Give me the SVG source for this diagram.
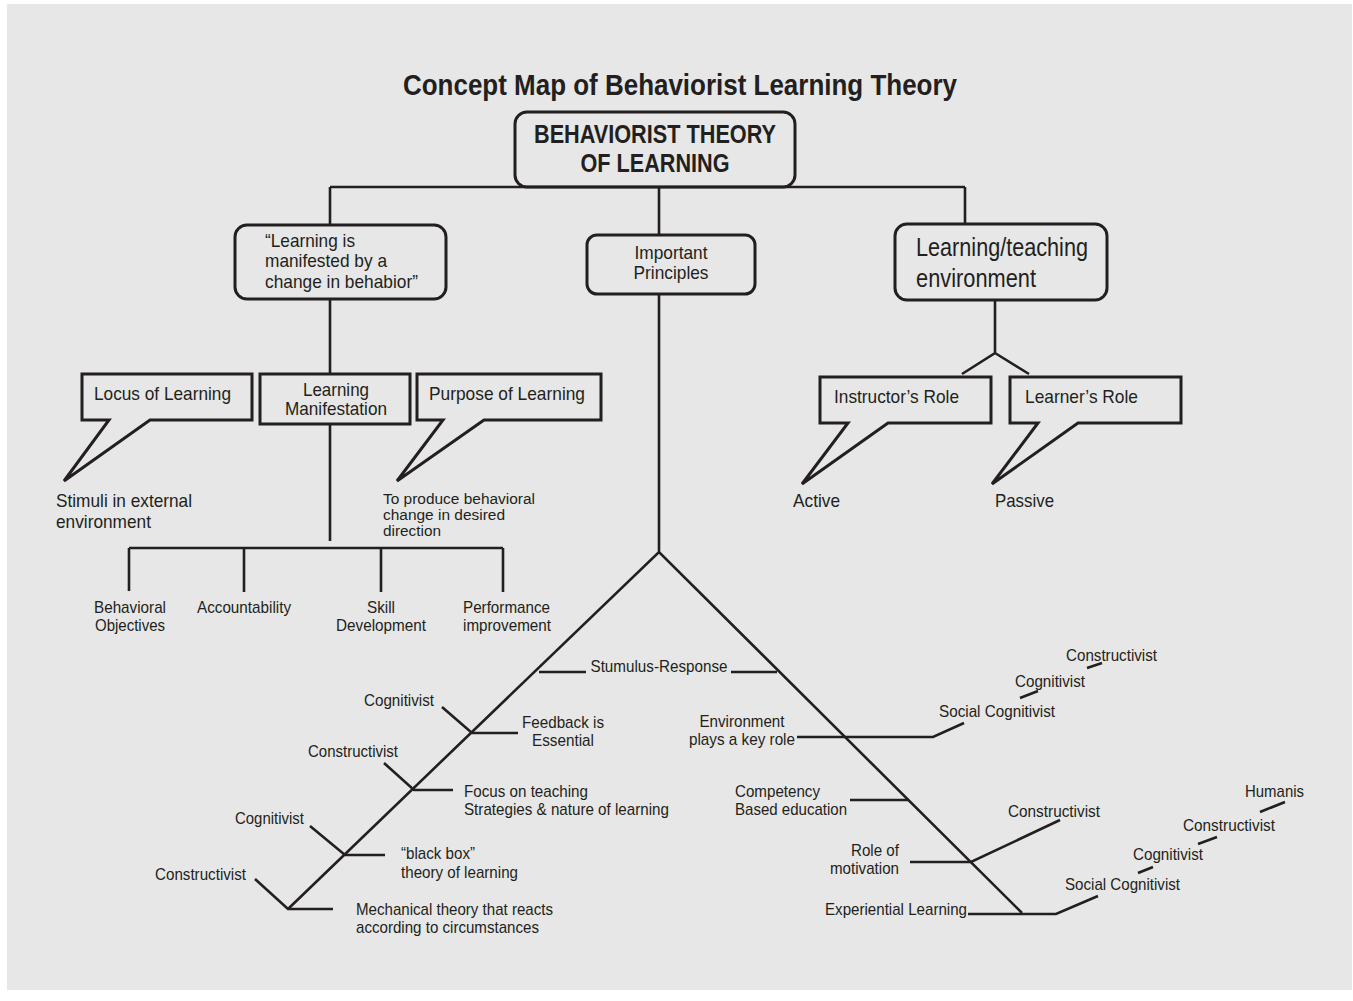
<svg xmlns="http://www.w3.org/2000/svg" width="1353" height="1001" viewBox="0 0 1353 1001">
<style>
.ln{stroke:#231f20;stroke-width:2.6;fill:none;stroke-linecap:butt}
.bx{fill:none;stroke:#231f20;stroke-width:3;stroke-linejoin:miter}
.rb{fill:none;stroke:#231f20;stroke-width:3}
text{font-family:"Liberation Sans",Arial,Helvetica,sans-serif;fill:#231f20}
.t18{font-size:19px}
.t16{font-size:17px}
.t15{font-size:15.5px}
.t24{font-size:25px}
.b25{font-size:25px;font-weight:bold}
.mid{text-anchor:middle}
.end{text-anchor:end}
</style>
<rect x="0" y="0" width="1353" height="1001" fill="#ffffff"/>
<rect x="7" y="4" width="1345" height="986" fill="#e6e7e6"/>

<g id="title">
<text x="680" y="95" class="mid" style="font-size:29px;font-weight:bold" textLength="554" lengthAdjust="spacingAndGlyphs">Concept Map of Behaviorist Learning Theory</text>
</g>

<g id="connectors">
<path class="ln" d="M330,187 H965 M330,187 V225 M659,187 V235 M965,187 V224"/>
<path class="ln" d="M330,299 V374 M330,424 V541"/>
<path class="ln" d="M129,548 H503 M129,548 V591 M244,548 V592 M381,548 V592 M503,548 V592"/>
<path class="ln" d="M995,300 V353 L962,374 M995,353 L1029,374"/>
<path class="ln" d="M659,294 V552 M288,909 L659,552 L1022,913"/>
<path class="ln" d="M539,672 H586 M731,672 H777"/>
<path class="ln" d="M442,707 L472,733 H518 M384,763 L414,790 H453 M310,826 L345,855 H385 M255,879 L288,909 H333"/>
<path class="ln" d="M797,737 H933 L964,723 M1020,698 L1038,691 M1087,668 L1102,663"/>
<path class="ln" d="M850,800 H909 M910,862 H971 L1060,820 M968,914 H1056 L1098,896"/>
<path class="ln" d="M1138,873 L1153,867 M1198,844 L1217,837 M1260,812 L1285,802"/>
</g>

<g id="node-root">
<rect class="rb" x="515" y="112" width="280" height="75" rx="12"/>
<text x="655" y="143" class="b25 mid" textLength="242" lengthAdjust="spacingAndGlyphs">BEHAVIORIST THEORY</text>
<text x="655" y="172" class="b25 mid" textLength="149" lengthAdjust="spacingAndGlyphs">OF LEARNING</text>
</g>

<g id="node-manifested">
<rect class="rb" x="235" y="225" width="211" height="74" rx="12"/>
<text x="265" y="247" class="t18" textLength="90" lengthAdjust="spacingAndGlyphs">“Learning is</text>
<text x="265" y="267" class="t18" textLength="122" lengthAdjust="spacingAndGlyphs">manifested by a</text>
<text x="265" y="288" class="t18" textLength="153" lengthAdjust="spacingAndGlyphs">change in behabior”</text>
</g>

<g id="node-principles">
<rect class="rb" x="587" y="235" width="168" height="59" rx="10"/>
<text x="671" y="259" class="t18 mid" textLength="73" lengthAdjust="spacingAndGlyphs">Important</text>
<text x="671" y="279" class="t18 mid" textLength="75" lengthAdjust="spacingAndGlyphs">Principles</text>
</g>

<g id="node-environment">
<rect class="rb" x="895" y="224" width="212" height="76" rx="12"/>
<text x="916" y="256" class="t24" textLength="172" lengthAdjust="spacingAndGlyphs">Learning/teaching</text>
<text x="916" y="287" class="t24" textLength="120" lengthAdjust="spacingAndGlyphs">environment</text>
</g>

<g id="node-locus">
<path class="bx" d="M82,374 H252 V420 H150 L64,481 L109,420 H82 Z"/>
<text x="94" y="400" class="t18" textLength="137" lengthAdjust="spacingAndGlyphs">Locus of Learning</text>
<text x="56" y="507" class="t18" textLength="136" lengthAdjust="spacingAndGlyphs">Stimuli in external</text>
<text x="56" y="528" class="t18" textLength="95" lengthAdjust="spacingAndGlyphs">environment</text>
</g>

<g id="node-manifestation">
<rect class="bx" x="260" y="374" width="150" height="50"/>
<text x="336" y="396" class="t18 mid" textLength="66" lengthAdjust="spacingAndGlyphs">Learning</text>
<text x="336" y="415" class="t18 mid" textLength="102" lengthAdjust="spacingAndGlyphs">Manifestation</text>
</g>

<g id="node-purpose">
<path class="bx" d="M417,374 H601 V420 H484 L397,481 L443,420 H417 Z"/>
<text x="429" y="400" class="t18" textLength="156" lengthAdjust="spacingAndGlyphs">Purpose of Learning</text>
<text x="383" y="504" class="t15" textLength="152" lengthAdjust="spacingAndGlyphs">To produce behavioral</text>
<text x="383" y="520" class="t15" textLength="122" lengthAdjust="spacingAndGlyphs">change in desired</text>
<text x="383" y="536" class="t15" textLength="58" lengthAdjust="spacingAndGlyphs">direction</text>
</g>

<g id="node-instructor">
<path class="bx" d="M820,377 H991 V423 H888 L802,484 L848,423 H820 Z"/>
<text x="834" y="403" class="t18" textLength="125" lengthAdjust="spacingAndGlyphs">Instructor’s Role</text>
<text x="793" y="507" class="t18" textLength="47" lengthAdjust="spacingAndGlyphs">Active</text>
</g>

<g id="node-learner">
<path class="bx" d="M1010,377 H1181 V423 H1078 L992,484 L1038,423 H1010 Z"/>
<text x="1025" y="403" class="t18" textLength="113" lengthAdjust="spacingAndGlyphs">Learner’s Role</text>
<text x="995" y="507" class="t18" textLength="59" lengthAdjust="spacingAndGlyphs">Passive</text>
</g>

<g id="node-outcomes">
<text x="130" y="613" class="t16 mid" textLength="72" lengthAdjust="spacingAndGlyphs">Behavioral</text>
<text x="130" y="631" class="t16 mid" textLength="70" lengthAdjust="spacingAndGlyphs">Objectives</text>
<text x="244" y="613" class="t16 mid" textLength="94" lengthAdjust="spacingAndGlyphs">Accountability</text>
<text x="381" y="613" class="t16 mid" textLength="28" lengthAdjust="spacingAndGlyphs">Skill</text>
<text x="381" y="631" class="t16 mid" textLength="90" lengthAdjust="spacingAndGlyphs">Development</text>
<text x="463" y="613" class="t16" textLength="87" lengthAdjust="spacingAndGlyphs">Performance</text>
<text x="463" y="631" class="t16" textLength="88" lengthAdjust="spacingAndGlyphs">improvement</text>
</g>

<g id="node-stimulus">
<text x="659" y="672" class="t16 mid" textLength="137" lengthAdjust="spacingAndGlyphs">Stumulus-Response</text>
</g>

<g id="node-feedback">
<text x="434" y="706" class="t16 end" textLength="70" lengthAdjust="spacingAndGlyphs">Cognitivist</text>
<text x="563" y="728" class="t16 mid" textLength="82" lengthAdjust="spacingAndGlyphs">Feedback is</text>
<text x="563" y="746" class="t16 mid" textLength="62" lengthAdjust="spacingAndGlyphs">Essential</text>
</g>

<g id="node-focus">
<text x="398" y="757" class="t16 end" textLength="90" lengthAdjust="spacingAndGlyphs">Constructivist</text>
<text x="464" y="797" class="t16" textLength="124" lengthAdjust="spacingAndGlyphs">Focus on teaching</text>
<text x="464" y="815" class="t16" textLength="205" lengthAdjust="spacingAndGlyphs">Strategies &amp; nature of learning</text>
</g>

<g id="node-blackbox">
<text x="304" y="824" class="t16 end" textLength="69" lengthAdjust="spacingAndGlyphs">Cognitivist</text>
<text x="401" y="859" class="t16" textLength="74" lengthAdjust="spacingAndGlyphs">“black box”</text>
<text x="401" y="878" class="t16" textLength="117" lengthAdjust="spacingAndGlyphs">theory of learning</text>
</g>

<g id="node-mechanical">
<text x="246" y="880" class="t16 end" textLength="91" lengthAdjust="spacingAndGlyphs">Constructivist</text>
<text x="356" y="915" class="t16" textLength="197" lengthAdjust="spacingAndGlyphs">Mechanical theory that reacts</text>
<text x="356" y="933" class="t16" textLength="183" lengthAdjust="spacingAndGlyphs">according to circumstances</text>
</g>

<g id="node-env-role">
<text x="742" y="727" class="t16 mid" textLength="85" lengthAdjust="spacingAndGlyphs">Environment</text>
<text x="742" y="745" class="t16 mid" textLength="106" lengthAdjust="spacingAndGlyphs">plays a key role</text>
<text x="939" y="717" class="t16" textLength="116" lengthAdjust="spacingAndGlyphs">Social Cognitivist</text>
<text x="1015" y="687" class="t16" textLength="70" lengthAdjust="spacingAndGlyphs">Cognitivist</text>
<text x="1066" y="661" class="t16" textLength="91" lengthAdjust="spacingAndGlyphs">Constructivist</text>
</g>

<g id="node-competency">
<text x="735" y="797" class="t16" textLength="85" lengthAdjust="spacingAndGlyphs">Competency</text>
<text x="735" y="815" class="t16" textLength="112" lengthAdjust="spacingAndGlyphs">Based education</text>
</g>

<g id="node-motivation">
<text x="899" y="856" class="t16 end" textLength="48" lengthAdjust="spacingAndGlyphs">Role of</text>
<text x="899" y="874" class="t16 end" textLength="69" lengthAdjust="spacingAndGlyphs">motivation</text>
<text x="1008" y="817" class="t16" textLength="92" lengthAdjust="spacingAndGlyphs">Constructivist</text>
</g>

<g id="node-experiential">
<text x="825" y="915" class="t16" textLength="142" lengthAdjust="spacingAndGlyphs">Experiential Learning</text>
<text x="1065" y="890" class="t16" textLength="115" lengthAdjust="spacingAndGlyphs">Social Cognitivist</text>
<text x="1133" y="860" class="t16" textLength="70" lengthAdjust="spacingAndGlyphs">Cognitivist</text>
<text x="1183" y="831" class="t16" textLength="92" lengthAdjust="spacingAndGlyphs">Constructivist</text>
<text x="1245" y="797" class="t16" textLength="59" lengthAdjust="spacingAndGlyphs">Humanis</text>
</g>
</svg>
